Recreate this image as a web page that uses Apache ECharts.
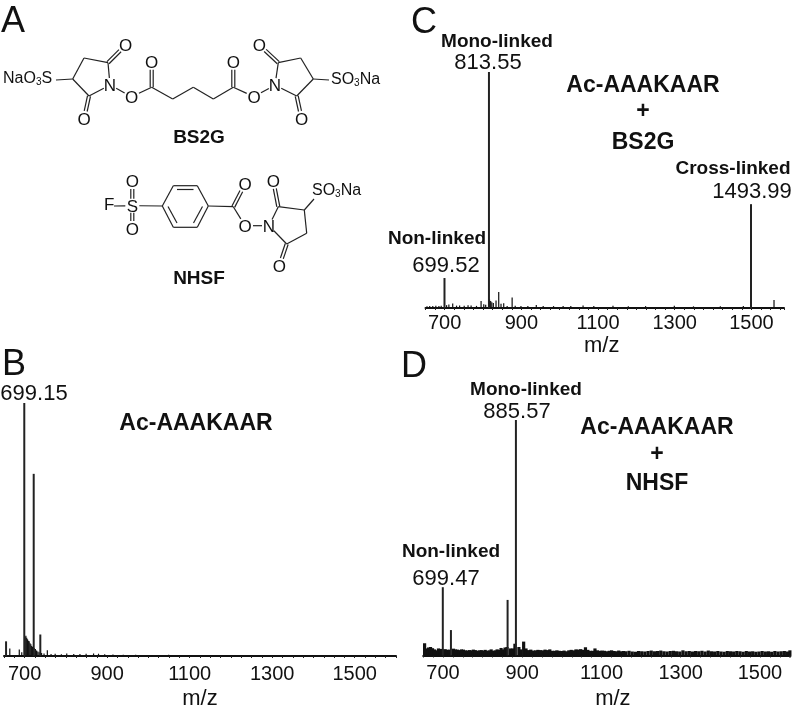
<!DOCTYPE html>
<html>
<head>
<meta charset="utf-8">
<title>Ac-AAAKAAR cross-linking spectra</title>
<style>
html,body{margin:0;padding:0;background:#fff;}
#main{width:796px;height:711px;}
</style>
<script src="https://cdn.jsdelivr.net/npm/echarts@6/dist/echarts.min.js"></script>
</head>
<body>
<div id="main"></div>
<script>
'use strict'
// m/z tick labels
var tickB=[700,900,1100,1300,1500];
var tickC=[700,900,1100,1300,1500];
var tickD=[700,900,1100,1300,1500];

// main peaks [m/z, % of the tallest peak], m/z as read from the drawn position
var peaksB=[[699.15,100],[722,72],[738,8.5],[655,5.8]];
var peaksC=[[699.52,12.7],[815.5,100],[1499,44]];
var peaksD=[[699.47,29],[720,10.8],[863,23.6],[884,100]];

// small peaks and baseline noise
var smallB=[[665,3],[688,2.6],[694,1.5],[702,7.6],[704,8],[706,7.2],[708,6.6],[710,6],[712,5.8],[714,5],[716,4.6],[718,4],[720,3.6],[724,3.2],[727,2.8],[730,2.2],[733,1.8],[736,1.5],[742,1.2],[748,1],[756,2.3],[765,.8],[775,.9],[790,.7],[803,1],[820,.8],[835,.8],[850,.9],[868,1],[880,.9],[895,.7],[915,.6],[940,.5],[970,.5],[1010,.4],[1050,.5],[1100,.4],[1150,.4],[1210,.4],[1270,.4],[1330,.4],[1400,.4],[1470,.4],[1540,.4]];
var smallC=[[655,.7],[662,.9],[670,.8],[678,1],[686,.9],[692,1],[706,1.2],[712,1.5],[722,1.9],[732,1],[740,1.1],[752,1],[762,1.2],[770,1.1],[784,.9],[796,3],[803,1.6],[808,1.4],[818,3.6],[821,3],[824,2.4],[828,2.1],[835,3.2],[842,6.8],[848,1.8],[855,2],[864,.9],[877,4.5],[885,1],[900,.9],[918,.9],[940,1.3],[958,.9],[985,.8],[1010,.9],[1030,.8],[1062,1.1],[1090,.8],[1140,1],[1180,.7],[1225,.8],[1300,1],[1350,.7],[1420,.7],[1480,.8],[1560,3.4]];
var noiseD=[[652,5.2],[657,3],[662,3.4],[667,3.6],[672,3.1],[677,2.6],[682,2.2],[687,3],[692,2.8],[697,2.6],[704,2.7],[709,2.4],[714,2.5],[725,2.9],[730,2.6],[735,2.5],[740,2.3],[745,2.6],[750,2.5],[755,2.2],[760,2.1],[765,2.3],[770,2.2],[775,2.5],[780,2.3],[785,2],[790,2.2],[795,2.3],[800,2.1],[805,2.4],[810,2],[815,2.2],[820,2.6],[825,2],[830,2.2],[835,2.6],[840,2.4],[845,3.2],[850,2.6],[855,3.4],[860,3.6],[869,3],[875,3],[880,5],[890,3.6],[895,2.6],[902,5.9],[908,3],[914,2.3],[920,2.5],[926,2.1],[932,2.2],[938,2.4],[944,2.3],[950,2.2],[956,2.5],[962,2.3],[968,2.6],[974,2],[980,2],[986,2.2],[992,2],[998,1.9],[1004,2.1],[1010,1.8],[1016,2.2],[1022,2.4],[1028,2.2],[1034,2.6],[1040,2.5],[1046,2.7],[1052,2.4],[1058,3.5],[1064,2.4],[1070,2],[1076,2],[1082,3],[1088,2.2],[1094,2],[1100,2.1],[1106,2],[1112,1.8],[1118,2],[1124,2.2],[1130,1.9],[1136,1.8],[1142,2.1],[1148,1.8],[1154,1.9],[1160,1.8],[1168,2],[1176,1.7],[1184,1.6],[1192,1.9],[1200,1.8],[1208,1.7],[1216,1.9],[1224,2.1],[1232,1.8],[1240,1.9],[1248,2.1],[1256,1.8],[1264,1.7],[1272,1.9],[1280,2],[1288,1.8],[1296,1.7],[1304,2.2],[1312,1.8],[1320,1.9],[1328,1.7],[1336,1.9],[1344,1.8],[1352,2],[1360,1.7],[1368,2.1],[1376,1.8],[1384,1.7],[1392,1.9],[1400,1.7],[1408,1.6],[1416,1.9],[1424,1.8],[1432,1.7],[1440,1.9],[1448,1.8],[1456,1.6],[1464,1.9],[1472,1.7],[1480,1.8],[1488,1.6],[1496,1.7],[1504,1.9],[1512,1.7],[1520,1.8],[1528,1.6],[1536,1.9],[1544,1.7],[1552,1.8],[1560,1.9],[1568,1.7],[1574,2.2]];

var FONT='"Liberation Sans", Arial, sans-serif';

// one spectrum panel: grid + x axis + y axis + stick series
var grids=[],xAxes=[],yAxes=[],series=[];
function addPanel(g,xMax,ticks,peaks,small,noiseW,labelGap,nameGap,namePad){
	var i=grids.length;
	grids.push({left:g[0],top:g[1],width:g[2],height:g[3]});
	xAxes.push({
		type:'value',gridIndex:i,min:650,max:xMax,interval:25,
		splitLine:{show:false},
		axisLine:{onZero:false,lineStyle:{color:'#111',width:2}},
		axisTick:{length:2,lineStyle:{color:'#222',width:1}},
		axisLabel:{customValues:ticks,formatter:function(v){return String(v);},color:'#111',fontSize:20,fontFamily:FONT,margin:labelGap},
		name:'m/z',nameLocation:'middle',nameGap:nameGap,
		nameTextStyle:{color:'#111',fontSize:22,fontFamily:FONT,padding:namePad}
	});
	yAxes.push({type:'value',gridIndex:i,min:0,max:100,show:false});
	series.push({type:'bar',xAxisIndex:i,yAxisIndex:i,data:small,barWidth:noiseW,barGap:'-100%',itemStyle:{color:'#111'},silent:true});
	series.push({type:'bar',xAxisIndex:i,yAxisIndex:i,data:peaks,barWidth:2,barGap:'-100%',itemStyle:{color:'#222'},silent:true});
}
addPanel([4,403,392,253.5],1600,tickB,peaksB,smallB,1.2,8,32,[0,0,0,0]);
addPanel([425.5,72,358.5,236],1585,tickC,peaksC,smallC,1.2,5,27,[0,6,0,0]);
addPanel([423.2,420,367.3,235.5],1577,tickD,peaksD,noiseD,3.2,8,32,[0,0,0,12]);

// ---- text and structure drawings ----
var gfx=[];
function txt(s,x,y,size,bold){
	gfx.push({type:'text',x:x,y:y+1.5,silent:true,style:{text:s,fill:'#111',fontFamily:FONT,fontSize:size,fontWeight:bold?'bold':'normal',align:'center',verticalAlign:'middle'}});
}
function sub(parts,x,y){ // formula with a subscript 3
	gfx.push({type:'text',x:x,y:y,silent:true,style:{
		rich:{n:{fontSize:16,fontFamily:FONT,fill:'#111'},s:{fontSize:10,fontFamily:FONT,fill:'#111',padding:[7,0,0,0]}},
		text:'{n|'+parts[0]+'}{s|3}{n|'+parts[1]+'}',align:'left',verticalAlign:'middle'}});
}
function bond(a,b,ta,tb,off){
	var dx=b[0]-a[0],dy=b[1]-a[1],len=Math.sqrt(dx*dx+dy*dy);
	var ux=dx/len,uy=dy/len;
	function put(o,sa,sb){
		gfx.push({type:'line',silent:true,shape:{
			x1:a[0]+ux*sa-uy*o,y1:a[1]+uy*sa+ux*o,
			x2:b[0]-ux*sb-uy*o,y2:b[1]-uy*sb+ux*o},
			style:{stroke:'#222',lineWidth:1.2}});
	}
	if(off){put(off/2,ta,tb);put(-off/2,ta,tb);}
	else put(0,ta,tb);
}

// panel letters
txt('A',13,21,36);
txt('B',14,364,36);
txt('C',424,22,36);
txt('D',414,366,36);

// BS2G
var cS1=[72.7,79],c1=[84,58],c2=[108,62.7],n1=[110,85],c3=[89,96],o1=[125.7,45],o2=[84,119],o3=[131.7,96.7];
var e1=[151.7,87.3],o4=[151.7,61.7],k1=[172.7,99],k2=[193.3,87.3],k3=[213.3,99],e2=[233.3,87.3],o5=[233.3,61.7];
var o6=[254,96.7],n2=[275,85],c4=[278.3,62.7],o7=[259.3,45],c5=[300.7,58],cS2=[313.3,79],c6=[296.7,96],o8=[301.7,119];
bond([56,80],cS1,0,0);
bond(cS1,c1,0,0);bond(c1,c2,0,0);bond(c2,n1,0,7);bond(n1,c3,7,0);bond(c3,cS1,0,0);
bond(c2,o1,0,8,3);bond(c3,o2,0,8,3);
bond(n1,o3,7,8);bond(o3,e1,8,0);bond(e1,o4,0,8,3);
bond(e1,k1,0,0);bond(k1,k2,0,0);bond(k2,k3,0,0);bond(k3,e2,0,0);bond(e2,o5,0,8,3);bond(e2,o6,0,8);
bond(o6,n2,8,7);bond(n2,c4,7,0);bond(c4,c5,0,0);bond(c5,cS2,0,0);bond(cS2,c6,0,0);bond(c6,n2,0,7);
bond(c4,o7,0,8,3);bond(c6,o8,0,8,3);
bond(cS2,[329,80],0,0);
[o1,o2,o3,o4,o5,o6,o7,o8].forEach(function(p){txt('O',p[0],p[1],17);});
txt('N',n1[0],n1[1],17);txt('N',n2[0],n2[1],17);
sub(['NaO','S'],3,79);
sub(['SO','Na'],331,80);
txt('BS2G',199,136,19,true);

// NHSF
var s1=[132.3,205.7],oa=[132.3,181],ob=[132.3,229],r1=[162.3,206],r2=[173.3,185.7],r3=[197.3,185.7],r4=[208.3,206],r5=[197.3,227.3],r6=[173.3,227.3];
var ca=[233.3,206.7],oc=[245,184],od=[245,225.7],n3=[269,225.7],cb=[278.3,206.7],oe=[273.3,180.7],cc=[304.3,210],cd=[306.7,233.3],ce=[286.7,244],of=[279.3,266];
bond([114,206],s1,0,7);bond(s1,oa,7,8,3);bond(s1,ob,7,8,3);bond(s1,r1,7,0);
bond(r1,r2,0,0);bond(r2,r3,0,0);bond(r3,r4,0,0);bond(r4,r5,0,0);bond(r5,r6,0,0);bond(r6,r1,0,0);
bond([177,189.5],[193.5,189.5],0,0);bond([202.5,206.5],[193.5,223],0,0);bond([168,206.5],[177,223],0,0);
bond(r4,ca,0,0);bond(ca,oc,0,8,3);bond(ca,od,0,8);bond(od,n3,8,7);
bond(n3,cb,7,0);bond(cb,cc,0,0);bond(cc,cd,0,0);bond(cd,ce,0,0);bond(ce,n3,0,7);
bond(cb,oe,0,8,3);bond(ce,of,0,8,3);bond(cc,[314,199],0,0);
[oa,ob,oc,od,oe,of].forEach(function(p){txt('O',p[0],p[1],17);});
txt('S',s1[0],s1[1],17);txt('F',109.3,204,17);txt('N',n3[0],n3[1],17);
sub(['SO','Na'],312,191);
txt('NHSF',199,277,19,true);

// panel B labels
txt('699.15',34,392,22);
txt('Ac-AAAKAAR',196,422,23,true);

// panel C labels
txt('Mono-linked',497,40,19,true);
txt('813.55',488,61,22);
txt('Ac-AAAKAAR',643,84,23,true);
txt('+',643,110,23,true);
txt('BS2G',643,141,23,true);
txt('Cross-linked',733,167,19,true);
txt('1493.99',752,190,22);
txt('Non-linked',437,237,19,true);
txt('699.52',446,264,22);

// panel D labels
txt('Mono-linked',526,388,19,true);
txt('885.57',517,410,22);
txt('Ac-AAAKAAR',657,426,23,true);
txt('+',657,453,23,true);
txt('NHSF',657,482,23,true);
txt('Non-linked',451,550,19,true);
txt('699.47',446,577,22);

var oChart=echarts.init(document.getElementById('main'));
oChart.setOption({
	animation:false,
	backgroundColor:'#fff',
	textStyle:{fontFamily:FONT},
	grid:grids,xAxis:xAxes,yAxis:yAxes,series:series,
	graphic:{elements:gfx}
});
</script>
</body>
</html>
